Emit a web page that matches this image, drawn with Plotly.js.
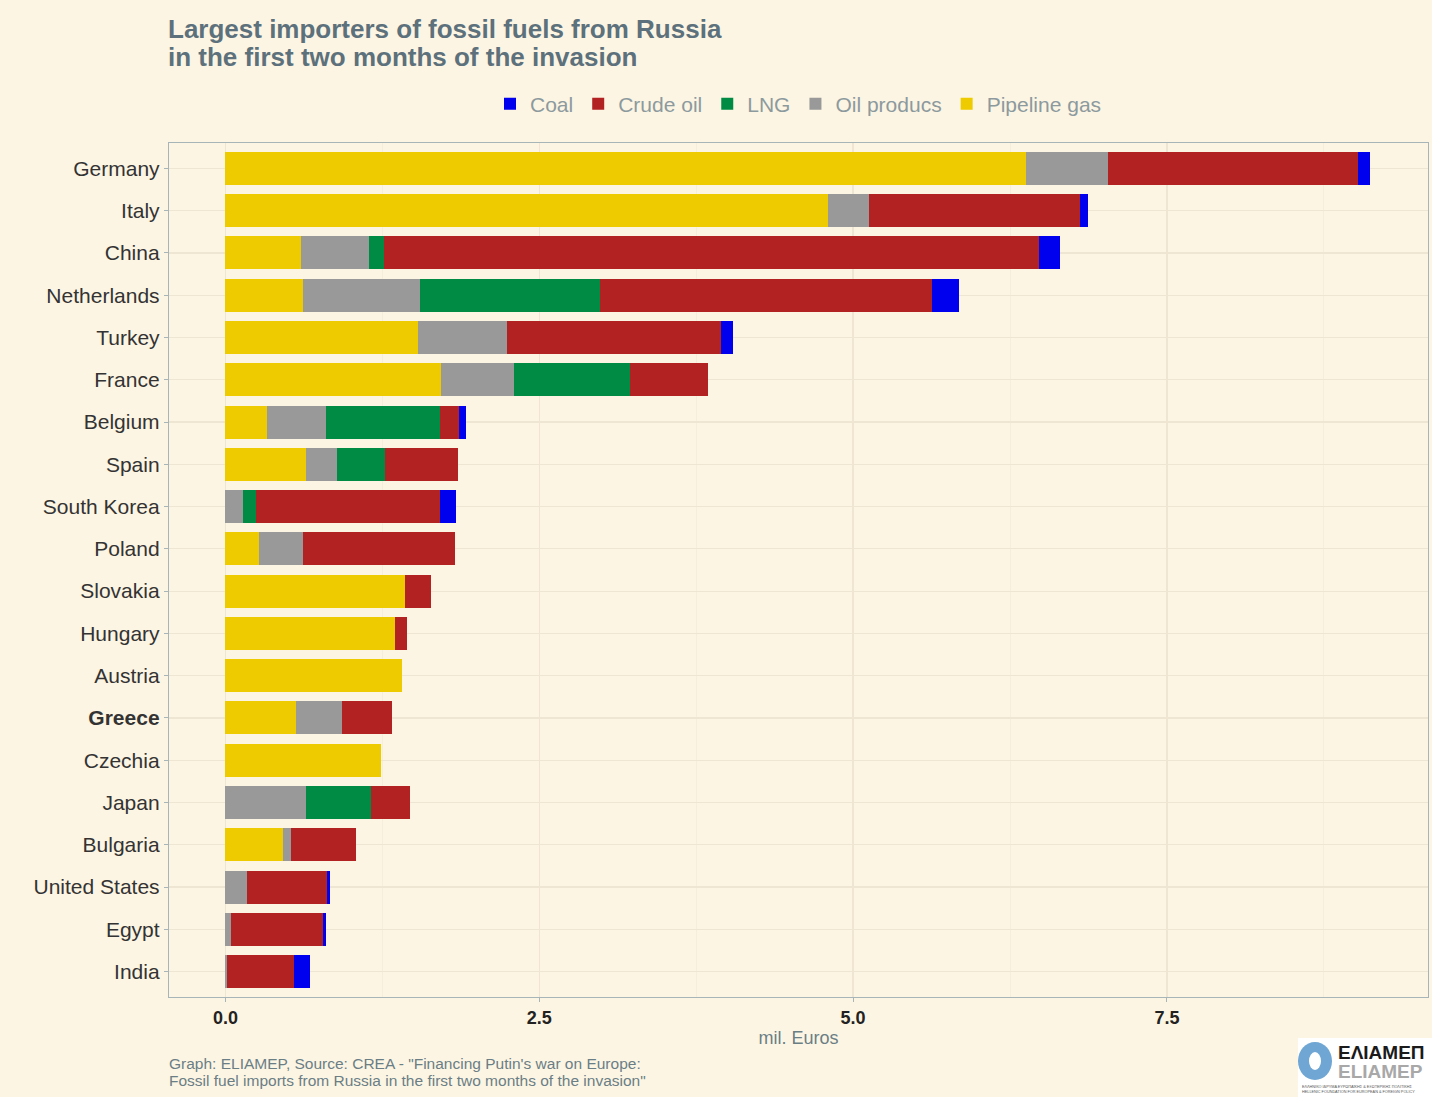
<!DOCTYPE html>
<html>
<head>
<meta charset="utf-8">
<script src="https://cdn.plot.ly/plotly-3.0.1.min.js"></script>
<style>
  html, body { margin: 0; padding: 0; background: #FDF5E3; }
  #chart { width: 1432px; height: 1097px; }
</style>
</head>
<body>
<div id="chart"></div>
<script>
// ---- Data (mil. Euros) ----
const countries = ["Germany", "Italy", "China", "Netherlands", "Turkey", "France", "Belgium", "Spain",
  "South Korea", "Poland", "Slovakia", "Hungary", "Austria", "Greece", "Czechia", "Japan",
  "Bulgaria", "United States", "Egypt", "India"];
const countryLabels = ["Germany", "Italy", "China", "Netherlands", "Turkey", "France", "Belgium", "Spain",
  "South Korea", "Poland", "Slovakia", "Hungary", "Austria", "<b>Greece</b>", "Czechia", "Japan",
  "Bulgaria", "United States", "Egypt", "India"];

const pipelineGas = [6.38, 4.80, 0.60, 0.62, 1.53, 1.72, 0.33, 0.64, 0, 0.27, 1.43, 1.35, 1.41, 0.56, 1.24, 0, 0.46, 0, 0, 0];
const oilProducts = [0.65, 0.33, 0.54, 0.93, 0.71, 0.58, 0.47, 0.25, 0.14, 0.35, 0, 0, 0, 0.37, 0, 0.64, 0.06, 0.17, 0.04, 0.015];
const lng         = [0, 0, 0.12, 1.43, 0, 0.92, 0.91, 0.38, 0.10, 0, 0, 0, 0, 0, 0, 0.52, 0, 0, 0, 0];
const crudeOil    = [1.99, 1.68, 5.22, 2.65, 1.71, 0.62, 0.15, 0.58, 1.47, 1.21, 0.21, 0.10, 0, 0.40, 0, 0.31, 0.52, 0.64, 0.74, 0.53];
const coal        = [0.10, 0.06, 0.17, 0.21, 0.09, 0, 0.06, 0, 0.13, 0, 0, 0, 0, 0, 0, 0, 0, 0.02, 0.02, 0.13];

const xTickVals = [0, 2.5, 5, 7.5];
const xTickText = ["0.0", "2.5", "5.0", "7.5"];

const titleLines = ["Largest importers of fossil fuels from Russia", "in the first two months of the invasion"];
const captionLines = ["Graph: ELIAMEP, Source: CREA - \"Financing Putin's war on Europe:",
  "Fossil fuel imports from Russia in the first two months of the invasion\""];

// ---- Styling ----
const BG = "#FDF5E3";
const fuelSeries = [
  {name: "Pipeline gas", values: pipelineGas, color: "#EECB00"},
  {name: "Oil producs",  values: oilProducts, color: "#999999"},
  {name: "LNG",          values: lng,         color: "#008B45"},
  {name: "Crude oil",    values: crudeOil,    color: "#B22222"},
  {name: "Coal",         values: coal,        color: "#0000EE"}
];

const traces = fuelSeries.map(s => ({
  type: "bar",
  orientation: "h",
  name: s.name,
  y: countries,
  x: s.values,
  width: 0.78,
  marker: {color: s.color, line: {width: 0}},
  hoverinfo: "name+x"
}));

const PH = 854, PW = 1259, PT = 143, PL = 169;
const py = px => (PT + PH - px) / PH;   // page pixel y -> paper y
const pxx = px => (px - PL) / PW;       // page pixel x -> paper x

const annotations = [];
titleLines.forEach((t, i) => annotations.push({
  text: "<b>" + t + "</b>", xref: "paper", yref: "paper", x: pxx(166), xanchor: "left",
  y: py(29 + 28 * i), yanchor: "middle", align: "left", showarrow: false,
  font: {size: 26, color: "#5C717B"}
}));
captionLines.forEach((t, i) => annotations.push({
  text: t, xref: "paper", yref: "paper", x: pxx(167), xanchor: "left",
  y: py(1063 + 17 * i), yanchor: "middle", align: "left", showarrow: false,
  font: {size: 15.5, color: "#6A7E86"}
}));
annotations.push(
  {
    text: "<b>ΕΛΙΑΜΕΠ</b>", xref: "paper", yref: "paper",
    x: pxx(1336), xanchor: "left", y: py(1052), yanchor: "middle",
    showarrow: false, font: {size: 19, color: "#1B1B1B"}
  },
  {
    text: "<b>ELIAMEP</b>", xref: "paper", yref: "paper",
    x: pxx(1336), xanchor: "left", y: py(1071), yanchor: "middle",
    showarrow: false, font: {size: 19, color: "#A8A8A8"}
  },
  {
    text: "ΕΛΛΗΝΙΚΟ ΙΔΡΥΜΑ ΕΥΡΩΠΑΪΚΗΣ & ΕΞΩΤΕΡΙΚΗΣ ΠΟΛΙΤΙΚΗΣ<br>HELLENIC FOUNDATION FOR EUROPEAN & FOREIGN POLICY",
    xref: "paper", yref: "paper",
    x: pxx(1300), xanchor: "left", y: py(1089), yanchor: "middle", align: "left",
    showarrow: false, font: {size: 3.8, color: "#555555"}
  }
);

const layout = {
  width: 1432,
  height: 1097,
  paper_bgcolor: BG,
  plot_bgcolor: BG,
  barmode: "stack",
  margin: {l: 169, r: 4, t: 143, b: 100},
  font: {family: "Liberation Sans, Arial, sans-serif", color: "#333333"},
  legend: {
    orientation: "h",
    traceorder: "reversed",
    x: 0.5, xanchor: "center",
    y: py(104), yanchor: "middle",
    font: {size: 21, color: "#8C9A9E"},
    bgcolor: "rgba(0,0,0,0)",
    itemwidth: 30
  },
  xaxis: {
    range: [-0.45, 9.58],
    tickvals: xTickVals,
    ticktext: xTickText,
    tickfont: {size: 18, color: "#222222", family: "Liberation Sans, Arial, sans-serif", weight: "bold"},
    ticks: "outside", ticklen: 4, tickcolor: "#A7B5B9",
    showgrid: true, gridcolor: "#EEE6D3", gridwidth: 1.2,
    minor: {tickvals: [1.25, 3.75, 6.25, 8.75], showgrid: true, gridcolor: "#F3ECDB", gridwidth: 0.8, ticks: ""},
    zeroline: false,
    showline: true, mirror: true, linecolor: "#A7B5B9", linewidth: 1.2,
    title: {text: "mil. Euros", font: {size: 18, color: "#6A7E86"}, standoff: 4}
  },
  yaxis: {
    type: "category",
    categoryorder: "array",
    categoryarray: countries,
    range: [19.6, -0.6],
    tickvals: countries,
    ticktext: countryLabels,
    tickfont: {size: 21, color: "#333333"},
    ticks: "outside", ticklen: 4, tickcolor: "#A7B5B9",
    showgrid: true, gridcolor: "#EEE6D3", gridwidth: 1.2,
    zeroline: false,
    showline: true, mirror: true, linecolor: "#A7B5B9", linewidth: 1.2
  },
  shapes: [
    {type: "rect", xref: "paper", yref: "paper", x0: pxx(1298), x1: pxx(1440),
     y0: py(1097), y1: py(1038), fillcolor: "#FFFFFF", line: {width: 0}, layer: "above"},
    {type: "circle", xref: "paper", yref: "paper", x0: pxx(1298), x1: pxx(1332),
     y0: py(1080), y1: py(1042), fillcolor: "#6FA6D3", line: {width: 0}, layer: "above"},
    {type: "circle", xref: "paper", yref: "paper", x0: pxx(1309), x1: pxx(1321),
     y0: py(1070), y1: py(1052), fillcolor: "#FFFFFF", line: {width: 0}, layer: "above"}
  ],
  annotations: annotations
};

Plotly.newPlot("chart", traces, layout, {displayModeBar: false, staticPlot: true});
</script>
</body>
</html>
